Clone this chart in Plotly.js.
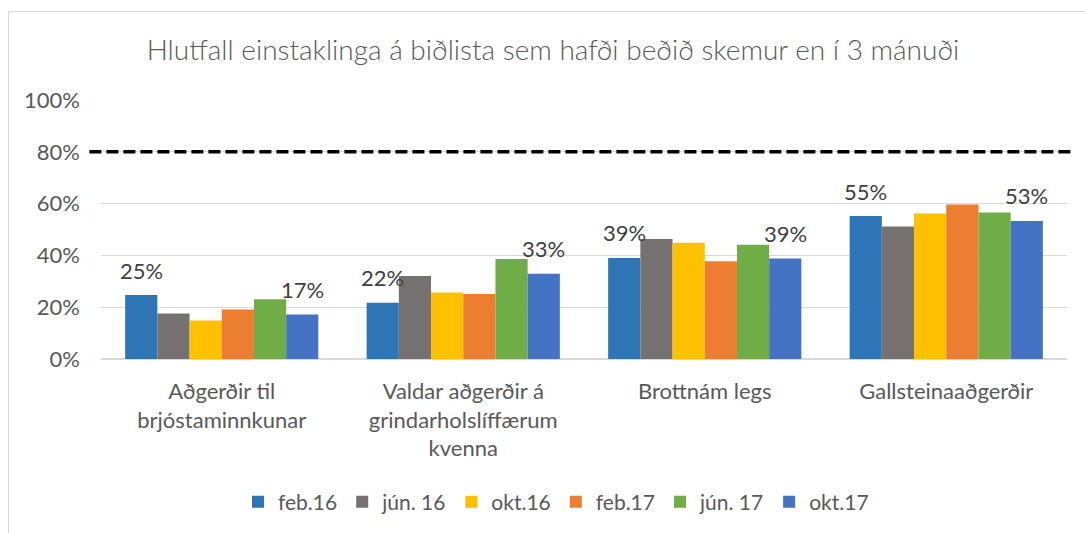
<!DOCTYPE html>
<html>
<head>
<meta charset="utf-8">
<script src="https://cdn.plot.ly/plotly-3.0.1.min.js"></script>
<style>
  html, body { margin: 0; padding: 0; background: #ffffff; }
  #wrap { position: relative; width: 1085px; height: 533px; overflow: hidden; }
  #chart { position: absolute; left: 0; top: 0; width: 1085px; height: 533px; }
  #frame { position: absolute; left: 8px; top: 11px; width: 1200px; height: 600px;
           border-left: 1.5px solid #d9d9d9; border-top: 1.5px solid #d9d9d9; pointer-events: none; }
</style>
</head>
<body>
<div id="wrap"><div id="chart"></div><div id="frame"></div></div>
<script>
const categories = [
  "Aðgerðir til<br>brjóstaminnkunar",
  "Valdar aðgerðir á<br>grindarholslíffærum<br>kvenna",
  "Brottnám legs",
  "Gallsteinaaðgerðir"
];
const seriesNames = ["feb.16", "jún. 16", "okt.16", "feb.17", "jún. 17", "okt.17"];
const seriesColors = ["#2E75B6", "#767171", "#FFC000", "#ED7D31", "#70AD47", "#4472C4"];
const feb16 = [0.247, 0.217, 0.390, 0.552];
const jun16 = [0.176, 0.320, 0.463, 0.512];
const okt16 = [0.149, 0.257, 0.449, 0.562];
const feb17 = [0.191, 0.251, 0.377, 0.597];
const jun17 = [0.231, 0.386, 0.441, 0.566];
const okt17 = [0.172, 0.329, 0.388, 0.533];
const seriesValues = [feb16, jun16, okt16, feb17, jun17, okt17];
const labeledSeries = [0, 5];
const targetLevel = 0.8;
const yTickVals = [0, 0.2, 0.4, 0.6, 0.8, 1.0];
const yTickText = ["0%", "20%", "40%", "60%", "80%", "100%"];

const FONT = "Lato, 'Open Sans', sans-serif";
const bargap = 0.2;

const traces = seriesNames.map((name, i) => ({
  type: "bar",
  name: name,
  x: categories,
  y: seriesValues[i],
  marker: { color: seriesColors[i], line: { width: 0 } },
  hoverinfo: "skip"
}));

const n = seriesNames.length;
const groupW = 1 - bargap;
const barW = groupW / n;
const annotations = [];
labeledSeries.forEach(si => {
  seriesValues[si].forEach((v, ci) => {
    annotations.push({
      xref: "x", yref: "y",
      x: ci - groupW / 2 + (si + 0.5) * barW,
      y: v,
      yshift: 25,
      yanchor: "middle",
      xanchor: "center",
      text: Math.round(v * 100) + "%",
      showarrow: false,
      font: { family: FONT, size: 22, color: "#404040" }
    });
  });
});

const layout = {
  width: 1085, height: 533,
  paper_bgcolor: "#ffffff", plot_bgcolor: "#ffffff",
  margin: { l: 101, r: 18, t: 100, b: 173.5 },
  bargap: bargap, bargroupgap: 0,
  barmode: "group",
  showlegend: true,
  title: {
    text: "Hlutfall einstaklinga á biðlista sem hafði beðið skemur en í 3 mánuði",
    xref: "container", yref: "container",
    x: 553 / 1085, xanchor: "center",
    y: 1 - 50 / 533, yanchor: "middle",
    font: { family: FONT, size: 28, color: "#595959", weight: 300 }
  },
  xaxis: {
    type: "category",
    showgrid: false, zeroline: false, showline: false,
    ticks: "", ticklabelstandoff: 17,
    tickfont: { family: FONT, size: 22, color: "#595959" },
    fixedrange: true
  },
  yaxis: {
    range: [0, 1],
    tickvals: yTickVals, ticktext: yTickText,
    showgrid: true, gridcolor: "#d9d9d9", gridwidth: 1.3,
    zeroline: true, zerolinecolor: "#d9d9d9", zerolinewidth: 1.3,
    showline: false, ticks: "",
    ticklabelstandoff: 20,
    tickfont: { family: FONT, size: 22, color: "#595959" },
    fixedrange: true
  },
  legend: {
    orientation: "h",
    xref: "container", yref: "container",
    x: 556 / 1085, xanchor: "center",
    y: 1 - 502 / 533, yanchor: "middle",
    font: { family: FONT, size: 21, color: "#595959" },
    itemwidth: 30, traceorder: "normal"
  },
  shapes: [{
    type: "line", xref: "paper", yref: "y",
    x0: -0.012, x1: 1.008, y0: targetLevel, y1: targetLevel,
    line: { color: "#000000", width: 3.5, dash: "12px,5px" }
  }],
  annotations: annotations
};

Plotly.newPlot("chart", traces, layout, { displayModeBar: false, staticPlot: true });
</script>
</body>
</html>
